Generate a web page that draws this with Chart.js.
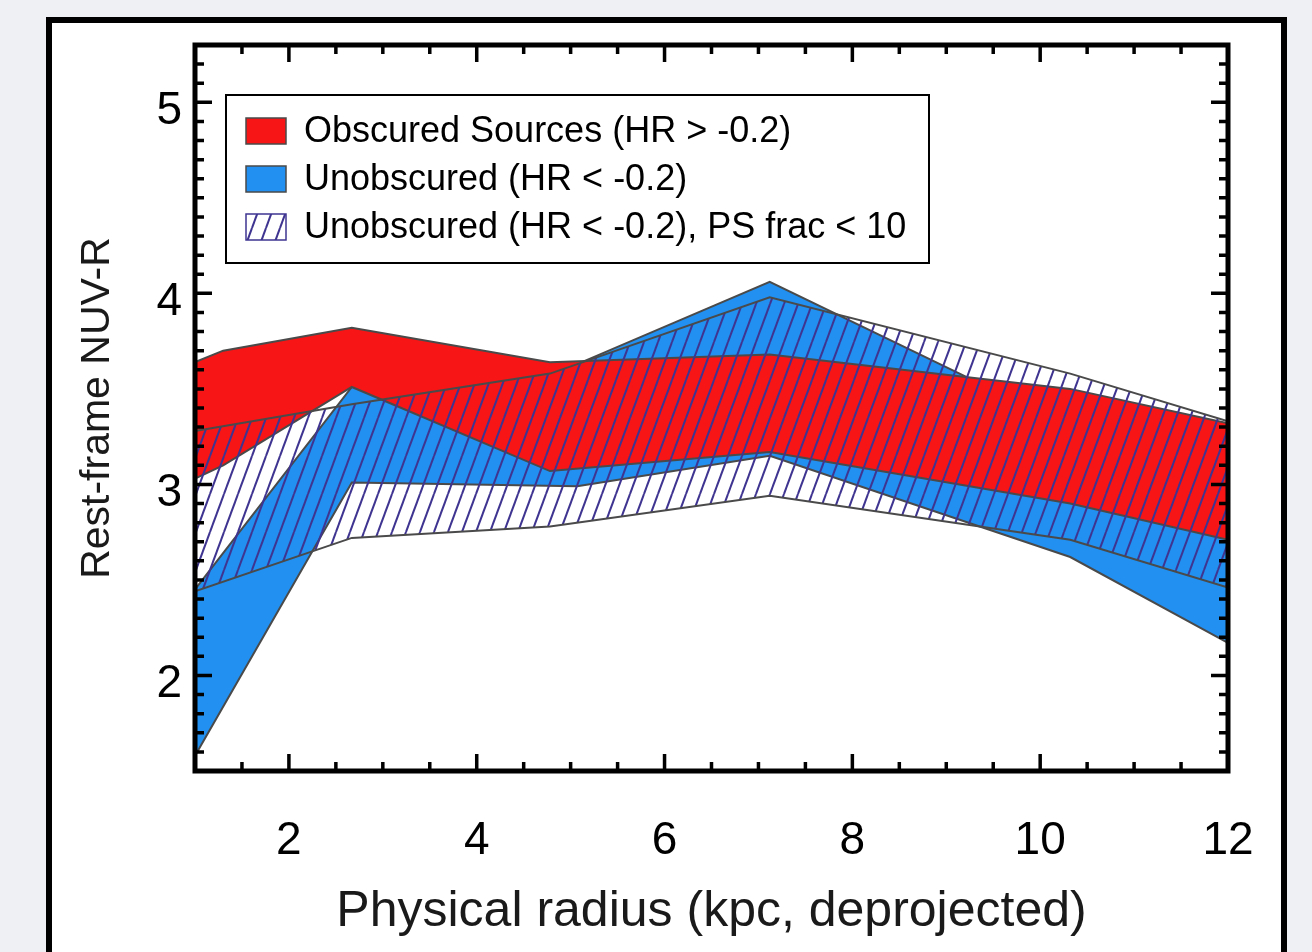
<!DOCTYPE html>
<html>
<head>
<meta charset="utf-8">
<script src="https://cdn.jsdelivr.net/npm/chart.js@4.4.0/dist/chart.umd.min.js"></script>
<style>
  html, body { margin: 0; padding: 0; width: 1312px; height: 952px; overflow: hidden; background: #eef0f4; }
  #panel { position: absolute; left: 46px; top: 17px; width: 1229px; height: 980px; background: #fff; border: 6px solid #000; }
  #chart { position: absolute; left: 0; top: 0; }
</style>
</head>
<body>
<div id="panel"></div>
<canvas id="chart" width="1312" height="952"></canvas>
<script>
// radial bins (kpc) and NUV-R ranges
const redX = [1.0, 1.3, 2.67, 4.78, 7.12, 10.32, 12.0];
const redUpper = [3.64, 3.70, 3.82, 3.64, 3.68, 3.50, 3.32];
const redLower = [3.03, 3.10, 3.51, 3.07, 3.17, 2.90, 2.71];

const blueX = [1.0, 2.67, 5.07, 7.12, 10.32, 12.0];
const blueUpper = [2.45, 3.51, 3.63, 4.06, 3.30, 3.05];
const blueLower = [1.58, 3.01, 2.99, 3.15, 2.62, 2.17];

const psX = [1.0, 2.67, 4.78, 7.12, 10.32, 12.0];
const psUpper = [3.28, 3.42, 3.58, 3.98, 3.58, 3.33];
const psLower = [2.44, 2.72, 2.78, 2.94, 2.71, 2.46];

const xTicks = [2, 4, 6, 8, 10, 12];
const yTicks = [2, 3, 4, 5];
const legendLabels = [
    'Obscured Sources (HR > -0.2)',
    'Unobscured (HR < -0.2)',
    'Unobscured (HR < -0.2), PS frac < 10'
];

const RED = '#f71515';
const BLUE = '#2190f0';
const EDGE = '#4a4a4a';
const HATCH = '#3f3591';
const FONT = 'Liberation Sans, Arial, Helvetica, sans-serif';

const canvas = document.getElementById('chart');
const ctx = canvas.getContext('2d');

// diagonal line fill like IDL's line_fill
function makeHatch(w, h) {
    const c = document.createElement('canvas');
    c.width = w;
    c.height = h;
    const g = c.getContext('2d');
    g.strokeStyle = HATCH;
    g.lineWidth = 2;
    for (const off of [-w, 0, w]) {
        g.beginPath();
        g.moveTo(off, h);
        g.lineTo(off + w, 0);
        g.stroke();
    }
    return ctx.createPattern(c, 'repeat');
}
const hatch = makeHatch(14, 38);

const pts = (xs, ys) => xs.map((x, i) => ({ x: x, y: ys[i] }));

function band(xs, upper, lower, fillStyle, order) {
    // lower line first so it is drawn over the fill of the upper one
    return [
        { data: pts(xs, lower), order: order, fill: false, borderColor: EDGE, borderWidth: 2 },
        { data: pts(xs, upper), order: order, fill: '-1', backgroundColor: fillStyle, borderColor: EDGE, borderWidth: 2 }
    ];
}

const frameAndTicks = {
    id: 'frameAndTicks',
    afterDatasetsDraw(chart) {
        const { ctx, chartArea: a, scales: { x, y } } = chart;
        ctx.save();
        ctx.strokeStyle = '#000';
        ctx.lineWidth = 3.5;
        ctx.beginPath();
        for (let v = 1.5; v < 12; v += 0.5) {
            const px = x.getPixelForValue(v);
            const len = v % 2 === 0 ? 17 : 9;
            ctx.moveTo(px, a.bottom); ctx.lineTo(px, a.bottom - len);
            ctx.moveTo(px, a.top); ctx.lineTo(px, a.top + len);
        }
        for (let k = 16; k < 53; k++) {
            const v = k / 10;
            const py = y.getPixelForValue(v);
            const len = k % 10 === 0 ? 17 : 9;
            ctx.moveTo(a.left, py); ctx.lineTo(a.left + len, py);
            ctx.moveTo(a.right, py); ctx.lineTo(a.right - len, py);
        }
        ctx.stroke();
        ctx.lineWidth = 5;
        ctx.strokeRect(a.left, a.top, a.right - a.left, a.bottom - a.top);
        ctx.restore();
    }
};

const boxLegend = {
    id: 'boxLegend',
    afterDraw(chart) {
        const ctx = chart.ctx;
        ctx.save();
        ctx.fillStyle = '#fff';
        ctx.fillRect(226, 95, 703, 168);
        ctx.strokeStyle = '#000';
        ctx.lineWidth = 2;
        ctx.strokeRect(226, 95, 703, 168);
        const fills = [RED, BLUE, hatch];
        const rows = [131, 179, 227];
        ctx.font = '36px ' + FONT;
        ctx.textBaseline = 'middle';
        legendLabels.forEach((txt, i) => {
            const top = rows[i] - 13;
            if (i === 2) {
                ctx.fillStyle = '#fff';
                ctx.fillRect(246, top, 40, 26);
            }
            ctx.fillStyle = fills[i];
            ctx.fillRect(246, top, 40, 26);
            ctx.strokeStyle = i === 2 ? HATCH : EDGE;
            ctx.lineWidth = 1.5;
            ctx.strokeRect(246, top, 40, 26);
            ctx.fillStyle = '#000';
            ctx.fillText(txt, 304, rows[i] + 1);
        });
        ctx.restore();
    }
};

new Chart(ctx, {
    type: 'line',
    data: {
        datasets: [
            ...band(psX, psUpper, psLower, hatch, 0),
            ...band(redX, redUpper, redLower, RED, 1),
            ...band(blueX, blueUpper, blueLower, BLUE, 2)
        ]
    },
    options: {
        responsive: false,
        animation: false,
        events: [],
        elements: { point: { radius: 0 }, line: { tension: 0 } },
        layout: { padding: { left: 0, top: 45, right: 84, bottom: 0 } },
        plugins: { legend: { display: false }, tooltip: { enabled: false } },
        scales: {
            x: {
                type: 'linear',
                min: 1,
                max: 12,
                grid: { display: false, drawTicks: false },
                border: { display: false },
                afterBuildTicks: (s) => { s.ticks = xTicks.map(v => ({ value: v })); },
                afterFit: (s) => { s.height = 181; },
                ticks: { color: '#000', padding: 43, maxRotation: 0, font: { family: FONT, size: 46 } },
                title: {
                    display: true,
                    text: 'Physical radius (kpc, deprojected)',
                    color: '#1a1a1a',
                    padding: { top: 0, bottom: 10 },
                    font: { family: FONT, size: 50 }
                }
            },
            y: {
                type: 'linear',
                min: 1.5,
                max: 5.3,
                grid: { display: false, drawTicks: false },
                border: { display: false },
                afterBuildTicks: (s) => { s.ticks = yTicks.map(v => ({ value: v })); },
                afterFit: (s) => { s.width = 195; },
                ticks: { color: '#000', padding: 13, labelOffset: 9, font: { family: FONT, size: 46 } },
                title: {
                    display: true,
                    text: 'Rest-frame NUV-R',
                    color: '#1a1a1a',
                    padding: { top: 73, bottom: 0 },
                    font: { family: FONT, size: 41 }
                }
            }
        }
    },
    plugins: [frameAndTicks, boxLegend]
});
</script>
</body>
</html>
